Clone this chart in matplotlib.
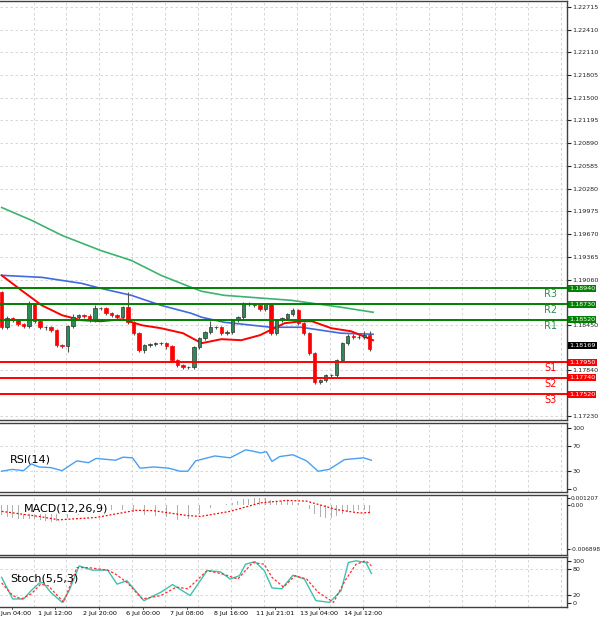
import matplotlib
matplotlib.use("Agg")
import matplotlib.pyplot as plt
import numpy as np

first_open = 1.18888
closes = [1.18420,1.18540,1.18514,1.18460,1.18433,1.18728,1.18500,1.18420,1.18420,1.18380,
          1.18179,1.18166,1.18433,1.18554,1.18581,1.18567,1.18514,1.18674,1.18674,1.18607,
          1.18581,1.18554,1.18688,1.18487,1.18340,1.18112,1.18179,1.18193,1.18206,1.18206,
          1.18166,1.17978,1.17912,1.17885,1.17885,1.18152,1.18273,1.18353,1.18420,1.18420,
          1.18340,1.18353,1.18514,1.18554,1.18741,1.18728,1.18714,1.18661,1.18728,1.18340,
          1.18514,1.18540,1.18594,1.18647,1.18474,1.18340,1.18072,1.17684,1.17711,1.17778,
          1.17778,1.17978,1.18206,1.18300,1.18286,1.18286,1.18313,1.18125]
wick_up = [0.0002,0.0003,0.0002,0.0002,0.0002,0.0004,0.0002,0.0002,0.0002,0.0002,
           0.0002,0.0002,0.0002,0.0004,0.0002,0.0002,0.0003,0.0004,0.0002,0.0002,
           0.0002,0.0002,0.0002,0.0020,0.0002,0.0002,0.0002,0.0002,0.0002,0.0002,
           0.0002,0.0002,0.0002,0.0002,0.0002,0.0002,0.0002,0.0002,0.0008,0.0002,
           0.0002,0.0003,0.0002,0.0002,0.0002,0.0002,0.0002,0.0002,0.0002,0.0002,
           0.0002,0.0002,0.0002,0.0003,0.0002,0.0002,0.0002,0.0002,0.0002,0.0002,
           0.0002,0.0002,0.0002,0.0003,0.0003,0.0005,0.0005,0.0006]
wick_dn = [0.0002,0.0002,0.0002,0.0002,0.0002,0.0002,0.0002,0.0002,0.0004,0.0002,
           0.0002,0.0002,0.0008,0.0002,0.0002,0.0002,0.0002,0.0002,0.0002,0.0002,
           0.0002,0.0002,0.0002,0.0002,0.0002,0.0002,0.0004,0.0002,0.0002,0.0002,
           0.0004,0.0002,0.0002,0.0002,0.0002,0.0002,0.0003,0.0002,0.0002,0.0002,
           0.0002,0.0002,0.0002,0.0002,0.0002,0.0002,0.0002,0.0002,0.0002,0.0002,
           0.0002,0.0002,0.0002,0.0002,0.0002,0.0002,0.0002,0.0002,0.0002,0.0002,
           0.0002,0.0002,0.0002,0.0002,0.0002,0.0002,0.0002,0.0002]

red_ma_x = [0,3.6,7.3,11,14.5,18,22,25.5,29,33,36.4,40,43.6,47,51.5,54.5,56.5,60,63.6,67.6]
red_ma_y = [1.19116,1.18915,1.18714,1.18581,1.18514,1.18500,1.18527,1.18447,1.18407,1.18340,
            1.18206,1.18260,1.18246,1.18313,1.18474,1.18500,1.18500,1.18407,1.18366,1.18246]
blue_ma_x = [0,7.3,14.5,18,23.6,29,34.5,36.4,40.5,49,54.5,61.8,67.6]
blue_ma_y = [1.19116,1.19089,1.19009,1.18942,1.18848,1.18714,1.18607,1.18554,1.18487,1.18420,
             1.18420,1.18340,1.18326]
green_ma_x = [0,5.5,11,18,23.6,29,34.5,36.4,40.5,52.7,61.8,67.6]
green_ma_y = [1.20026,1.19852,1.19651,1.19450,1.19316,1.19116,1.18955,1.18902,1.18848,1.18781,
              1.18688,1.18621]

res_levels = [1.18940, 1.18730, 1.18520]
res_names = ["R3", "R2", "R1"]
sup_levels = [1.17950, 1.17740, 1.17520]
sup_names = ["S1", "S2", "S3"]
current_price = 1.18169
price_ticks = [1.22715,1.22410,1.22110,1.21805,1.21500,1.21195,1.20890,1.20585,1.20280,1.19975,
               1.19670,1.19365,1.19060,1.18450,1.17840,1.17230]

rsi_x = [0,1.9,4,5.4,6.8,8.9,11,13.7,15.8,17.2,20.7,22.1,23.8,25.2,27.7,30.4,32.5,33.9,35.3,38.8,
         41.6,44.4,45.7,47.1,48.2,49.2,50.6,53,55.5,57.6,59.6,62.4,65.9,67.3]
rsi_y = [29,32,30,41,36,35,30,46,43,50,47,52,51,34,36,34,29,29,46,54,
         51,64,62,59,61,45,53,56,46,29,32,48,51,47]

macd_hist = [-0.0016,-0.0018,-0.0020,-0.0021,-0.0022,-0.0021,
             -0.0022,-0.0023,-0.0024,-0.0026,-0.0025,-0.0024,
             -0.0020,-0.0017,-0.0015,-0.0013,-0.0012,-0.0010,
             -0.0009,-0.0008,-0.0007,-0.0006,-0.0007,-0.0009,
             -0.0011,-0.0014,-0.0015,-0.0016,-0.0017,-0.0017,
             -0.0019,-0.0021,-0.0023,-0.0024,-0.0021,-0.0017,
             -0.0013,-0.0009,-0.0005,-0.0002,0.0000,0.0002,
             0.0004,0.0007,0.0009,0.0010,0.0011,0.0011,
             0.0011,0.0008,0.0007,0.0006,0.0006,0.0005,
             0.0003,0.0000,-0.0006,-0.0014,-0.0018,-0.0020,
             -0.0020,-0.0017,-0.0013,-0.0010,-0.0009,-0.0008,-0.0008,-0.0010]
sig_x = [0,6.8,10.4,17.2,24.4,27.6,33.6,36.2,41.6,47.1,51.9,55.5,61,65.2,67.3]
sig_y = [-0.00096,-0.00176,-0.00229,-0.00192,-0.0008,-0.00085,-0.0016,-0.00176,-0.00096,
         0.00037,0.00075,0.00064,-0.00069,-0.00123,-0.00112]

k_x = [0,2,4,5.4,6.8,7.5,8.9,11,12.3,14.1,16.5,19.3,21,22.8,25.9,29,31.1,34.3,37.4,39.8,
       41.6,43.3,44.4,46.1,47.8,49.2,51,53,55.1,57.2,59.7,61.8,63.1,64.5,66.3,67.3]
k_y = [61,10,10,30,47,49,26,2,30,88,78,78,45,53,6,26,44,18,77,74,
       57,65,92,98,77,36,34,66,57,6,2,30,96,100,96,70]
d_x = [0,2,3.6,5.4,7.1,8.5,11.3,13.7,15.8,19.3,20.7,22.8,25.6,29,31.8,33.9,37.4,40.2,43,45.7,
       47.8,49.2,51.3,53.4,55.5,57.6,60.4,62.5,64.5,66.3,67.3]
d_y = [48,18,10,22,45,41,2,84,84,78,69,49,10,18,38,34,77,69,57,96,
       92,61,38,65,57,26,2,53,92,100,88]

date_labels = ["30 Jun 04:00","1 Jul 12:00","2 Jul 20:00","6 Jul 00:00","7 Jul 08:00",
               "8 Jul 16:00","11 Jul 21:01","13 Jul 04:00","14 Jul 12:00"]

# ---------------- figure ----------------
W, H = 600, 625
FS = 4.6
fig = plt.figure(figsize=(6, 6.25), dpi=100)
fig.patch.set_facecolor("white")
right = 567 / W
def ax_px(top, bot):
    return fig.add_axes([0, 1 - bot / H, right, (bot - top) / H])
ax = ax_px(1, 420)
ax_rsi = ax_px(423, 492)
ax_macd = ax_px(495, 555)
ax_st = ax_px(557, 607)

n = len(closes)
xs = np.arange(n)
xlim = (-0.3, 102.9)
grid_x = np.arange(5.8, 103, 6)
label_x = np.arange(1.8, 70, 8)
GC = "#d0d0d0"
for a in (ax, ax_rsi, ax_macd, ax_st):
    a.set_xlim(*xlim)
    a.set_xticks([])
    for gx in grid_x:
        a.axvline(gx, color=GC, lw=0.6, ls=(0, (3, 3)), zorder=0)
    a.spines["left"].set_visible(False)
    for s in ("top", "bottom", "right"):
        a.spines[s].set_color("#404040")
        a.spines[s].set_linewidth(1.0)
    a.yaxis.tick_right()
    a.tick_params(axis="y", labelsize=FS, length=3, pad=1, colors="#222222")

# main
ax.set_ylim(1.17176, 1.22795)
ax.set_yticks(price_ticks)
ax.set_yticklabels([f"{t:.5f}" for t in price_ticks])
for t in price_ticks:
    ax.axhline(t, color=GC, lw=0.6, ls=(0, (3, 3)), zorder=0)

ax.plot(green_ma_x, green_ma_y, color="#3cb371", lw=1.2, zorder=2)
ax.plot(blue_ma_x, blue_ma_y, color="#4169e1", lw=1.2, zorder=2)
ax.plot(red_ma_x, red_ma_y, color="#ff0000", lw=1.4, zorder=2)

opens = [first_open] + closes[:-1]
for i in range(n):
    o, c = opens[i], closes[i]
    hi = max(o, c) + wick_up[i]
    lo = min(o, c) - wick_dn[i]
    ax.vlines(i, lo, hi, color="#555555", lw=0.8, zorder=3)
    col = "#2e8b57" if c >= o else "#ff0000"
    body = max(abs(c - o), 0.00004)
    ax.bar(i, body, bottom=min(o, c), width=0.6, color=col, edgecolor="#333333" if c >= o else col,
           lw=0.5, zorder=4)

for lv, nm in zip(res_levels, res_names):
    ax.axhline(lv, color="#008000", lw=1.4, zorder=5)
    ax.text(98.7, lv - 0.0001, nm, color="#2e8b57", fontsize=7, ha="left", va="top")
    ax.text(1.004, lv, f"{lv:.5f}", transform=ax.get_yaxis_transform(), fontsize=FS, color="white",
            va="center", ha="left", bbox=dict(boxstyle="square,pad=0.15", fc="#008000", ec="none"), zorder=10)
for lv, nm in zip(sup_levels, sup_names):
    ax.axhline(lv, color="#ff0000", lw=1.4, zorder=5)
    ax.text(98.7, lv - 0.0001, nm, color="#ff0000", fontsize=7, ha="left", va="top")
    ax.text(1.004, lv, f"{lv:.5f}", transform=ax.get_yaxis_transform(), fontsize=FS, color="white",
            va="center", ha="left", bbox=dict(boxstyle="square,pad=0.15", fc="#ff0000", ec="none"), zorder=10)
ax.text(1.004, current_price, f"{current_price:.5f}", transform=ax.get_yaxis_transform(), fontsize=FS,
        color="white", va="center", ha="left",
        bbox=dict(boxstyle="square,pad=0.15", fc="black", ec="none"), zorder=10)

# RSI
ax_rsi.set_ylim(-5, 108)
ax_rsi.set_yticks([0, 30, 70, 100])
for t in (30, 70):
    ax_rsi.axhline(t, color=GC, lw=0.6, ls=(0, (3, 3)), zorder=0)
ax_rsi.plot(rsi_x, rsi_y, color="#4a9ff5", lw=1.0)
ax_rsi.text(1.5, 48, "RSI(14)", fontsize=8, va="center")

# MACD
ax_macd.set_ylim(-0.0078, 0.0016)
ax_macd.set_yticks([0.001207, 0.0, -0.006898])
ax_macd.set_yticklabels(["0.001207", "0.00", "-0.006898"])
ax_macd.tick_params(axis="y", labelsize=4.2, length=2, pad=0.5)
ax_macd.bar(xs, macd_hist, width=0.15, color="#b0b0b0", zorder=2)
ax_macd.plot(sig_x, sig_y, color="#ff0000", lw=0.9, ls=(0, (1.5, 1.5)), zorder=3)
ax_macd.text(4, -0.0005, "MACD(12,26,9)", fontsize=8, va="center", zorder=5,
             bbox=dict(fc="white", ec="none", pad=0.5))

# Stoch
ax_st.set_ylim(-9, 109)
ax_st.set_yticks([0, 20, 80, 100])
for t in (20, 80):
    ax_st.axhline(t, color=GC, lw=0.6, ls=(0, (3, 3)), zorder=0)
ax_st.plot(k_x, k_y, color="#40c0b0", lw=1.0)
ax_st.plot(d_x, d_y, color="#ff3030", lw=0.9, ls=(0, (2, 1.5)))
ax_st.text(1.5, 58, "Stoch(5,5,3)", fontsize=8, va="center")

for lx, lab in zip(label_x, date_labels):
    ax_st.text(lx, -0.08, lab, transform=ax_st.get_xaxis_transform(), fontsize=FS, ha="center", va="top")
    ax_st.plot([lx, lx], [-9, -14], color="#404040", lw=0.6, clip_on=False)

fig.savefig("out.png", dpi=100, facecolor="white")
